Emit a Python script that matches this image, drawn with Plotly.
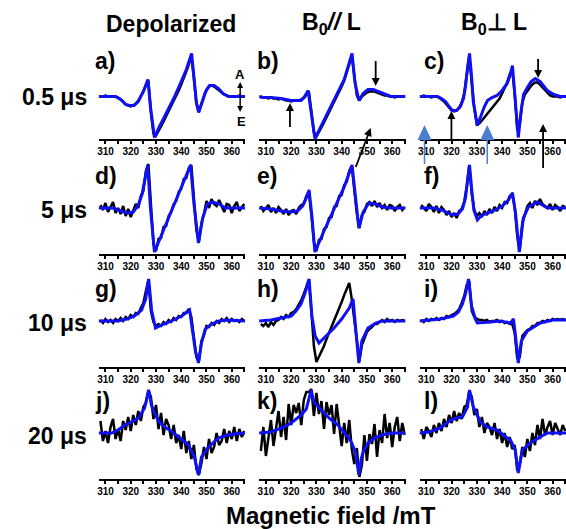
import math
import plotly.graph_objects as go

W, H = 566, 529

# Field grid of the recorded spectra (mT)
FIELD = [308, 309, 310, 311, 312, 313, 314, 315, 316, 317, 318, 319, 320, 321,
         322, 323, 324, 325, 326, 327, 328, 329, 330, 331, 332, 333, 334, 335,
         336, 337, 338, 339, 340, 341, 342, 343, 344, 345, 346, 347, 348, 349,
         350, 351, 352, 353, 354, 355, 356, 357, 358, 359, 360, 361, 362, 363, 364, 365]

TICK_VALUES = [310, 320, 330, 340, 350, 360]
TICK_LABELS = ["310", "320", "330", "340", "350", "360"]
MINOR_TICKS = [315, 325, 335, 345, 355, 365]

COLUMN_TITLES = ["Depolarized", "B<sub>0</sub><i>//</i> L", "B<sub>0</sub>\u22a5 L"]
ROW_LABELS = ["0.5 \u03bcs", "5 \u03bcs", "10 \u03bcs", "20 \u03bcs"]
PANEL_LETTERS = ["a)", "b)", "c)", "d)", "e)", "f)", "g)", "h)", "i)", "j)", "k)", "l)"]

# ---- 0.5 us ----
A_FIT_B = [307.3, 314, 316, 318, 319.5, 321.3, 323, 325, 326.8, 327.8, 329.4, 331, 334, 337,
           340, 342, 344.1, 345, 346, 346.9, 348, 349.5, 351.2, 353, 354.7, 356.5, 358.7, 365.3]
A_FIT = [0, 0, -3, -8, -9, -9, -5, 5, 17, -10, -41, -32, -17, -2,
         15, 27, 43, 18, -6, -16, -8, 4, 11, 11, 8, 3, 0, 0]
A_DATA = [0, 0, 1, 0, 0, 0, 0, -1, -3, -5, -8, -9, -10, -9,
          -7, -4, 0, 5, 11, 16, -16, -37, -39, -35, -30, -25, -20, -15,
          -10, -5, 0, 6, 12, 18, 25, 32, 41, 19, -7, -15, -8, 1,
          7, 10, 11, 10, 8, 6, 4, 2, 1, 0, 0, 0, 0, 1, 0, 0]

B_FIT_B = [307.3, 308.5, 312, 316, 320, 323.9, 325.5, 326.7, 327.6, 329.4, 332, 335, 338, 341,
           344.1, 345.2, 346.8, 348.5, 350.4, 352.5, 355.5, 357.5, 359.5, 365.3]
B_FIT = [0, -1, -1, -2, -4, -4, 0, 6, -10, -42, -29, -14, 1, 17,
         43, 15, -4, 3, 7, 7, 4, 2, 0, 0]
B_DATA = [0, -1, -1, -2, -1, -2, -2, -3, -2, -3, -4, -4, -5, -4,
          -4, -4, -3, -1, 3, 5, -15, -36, -40, -36, -31, -26, -21, -16,
          -11, -6, -1, 4, 10, 16, 23, 32, 41, 21, 1, -4, 0, 2,
          4, 5, 5, 5, 4, 3, 2, 1, 1, 0, 0, -1, 0, 0, 0, 0]

C_FIT_B = [307.3, 314.4, 316, 317.6, 319, 320.3, 322, 323.5, 324.7, 325.5, 326.3, 327.1, 327.9,
           328.6, 330.2, 331.5, 333, 334.2, 336, 338, 340, 342, 343, 344.1, 345.2, 346.4,
           347.5, 348.5, 350, 351.5, 353.1, 355, 357.9, 360.5, 363, 365.3]
C_FIT = [0, 0, -2, -5, -10, -14, -14, -10, -2, 10, 28, 43, 20,
         -5, -29, -20, -10, -4, -1, 1, 6, 13, 20, 31, 0, -41,
         -15, 2, 9, 15, 18, 15, 6, 2, 0, 0]
C_DATA = [0, 1, 0, 0, -1, 0, 0, -1, -3, -5, -8, -11, -14, -15,
          -14, -11, -6, 3, 21, 41, 13, -12, -28, -27, -24, -21, -17, -14,
          -11, -8, -5, -2, 3, 8, 14, 22, 27, 3, -34, -27, -6, 2,
          6, 9, 12, 14, 14, 12, 9, 6, 3, 1, 0, 0, 0, -1, 0, 0]

# ---- 5 us ----
D_FIT_B = [307.3, 313, 316, 318.5, 321, 323, 324.5, 325.7, 326.7, 327.8, 329.4, 333, 337, 341,
           343.7, 345, 346.8, 348.5, 350.3, 352.5, 355, 357.5, 365.3]
D_FIT = [0, 0, -3, -5, -4, 3, 14, 28, 43, 0, -44, -22, 2, 26,
         43, 5, -35, -10, 4, 6, 4, 0, 0]
D_DATA = [3, -2, 5, -4, 1, 6, -5, 0, -6, 2, -8, -1, -9, -2,
          4, 0, 12, 17, 37, 44, 2, -36, -43, -31, -30, -19, -18, -8,
          -4, 4, 7, 16, 19, 29, 30, 40, 43, 7, -22, -34, -15, -6,
          7, 0, 9, 4, 2, 8, 1, -4, 4, 3, -5, 2, 6, -3, 1, 4]

E_FIT_B = [307.3, 312, 316, 320, 322.5, 324.5, 326, 327.1, 328.2, 329.4, 333, 337, 341, 344.1,
           345.5, 346.8, 348.5, 350.8, 353.5, 356, 359.5, 365.3]
E_FIT = [0, -1, -3, -4, -3, 2, 10, 18, -8, -44, -23, -1, 21, 43,
         8, -20, -4, 5, 4, 1, 0, 0]
E_DATA = [2, -3, 0, 3, -4, 0, -5, 1, -2, -6, -1, -7, -3, -2,
          -6, 0, 3, 4, 12, 16, -6, -34, -43, -32, -31, -21, -19, -10,
          -9, 1, 2, 12, 13, 23, 26, 37, 42, 15, -5, -20, -7, -4,
          4, 6, 2, 7, 1, 5, 0, 3, -2, 3, 2, -3, 1, 3, -2, 1]

F_FIT_B = [307.3, 313, 316, 318.5, 320.3, 322.5, 324.3, 325.5, 326.4, 327.1, 327.9, 328.8, 330.2,
           332, 334.2, 337.3, 340, 342.5, 344.1, 345.3, 346.8, 348.4, 350.4, 353.9, 357.9, 365.3]
F_FIT = [0, 0, -2, -5, -7, -6, -1, 10, 28, 43, 20, -2, -12,
         -7, -5, -2, 2, 8, 15, -5, -44, -10, 1, 6, 0, 0]
F_DATA = [3, 0, -3, 4, 1, -4, 2, -5, 1, -2, -7, -3, -9, -5,
          -10, -3, -1, 6, 22, 43, 14, -2, -8, -5, -9, -3, -7, -1,
          -5, 1, -3, 3, 0, 6, 5, 12, 14, 1, -28, -42, -15, -7,
          2, 5, 0, 7, 3, 9, 4, 2, 0, 4, -2, 3, 1, -3, 2, 1]

# ---- 10 us ----
G_FIT_B = [307.3, 315, 318.5, 321.5, 324.3, 325.9, 327.1, 328.3, 329.8, 332.2, 336.2, 340.2,
           343.3, 344.5, 345.6, 346.8, 348, 349.5, 352, 355, 358, 365.3]
G_FIT = [0, 0, 2, 5, 11, 22, 42, 10, -7, -4, 0, 5,
         11, -10, -30, -42, -22, -8, -3, 0, 1, 0]
G_DATA = [1, -2, 2, -1, 1, -2, 2, 0, 3, 0, 4, 2, 6, 4,
          8, 7, 13, 18, 30, 41, 10, -1, -5, -3, -5, -1, -3, 1,
          -1, 3, 1, 5, 4, 8, 8, 12, 4, -18, -36, -40, -20, -14,
          -5, -6, -2, -4, 0, -2, 2, 0, 3, -1, 2, 0, 1, -1, 2, 0]

H_FIT_B = [307.3, 312, 316, 320, 321.9, 323.9, 325.5, 327.1, 328.2, 329.5, 331, 334, 337, 340,
           343, 344.5, 345.6, 346.8, 348, 350.4, 353.5, 356, 365.3]
H_FIT = [0, 1, 3, 5, 10, 17, 28, 42, 5, -15, -22, -15, -7, 2,
         13, 22, -10, -42, -20, -7, -2, 0, 0]
H_DATA = [-3, -5, -2, -6, -1, -4, 0, 1, 4, 2, 6, 4, 8, 9,
          12, 16, 21, 27, 34, 41, 10, -25, -41, -36, -31, -25, -18, -12,
          -6, 0, 7, 13, 19, 26, 32, 38, 22, 2, -22, -40, -24, -17,
          -11, -8, -6, -3, -3, -1, 1, -1, 2, 0, 1, -1, 1, 0, 1, 0]

I_FIT_B = [307.3, 315.6, 320.7, 322.7, 324.3, 325.5, 326.7, 327.9, 329.4, 330.2, 335.4, 339.3,
           343.3, 344.5, 345.3, 346.4, 347.6, 350, 355.1, 360, 365.3]
I_FIT = [0, 2, 5, 9, 17, 27, 42, 15, 2, -2, -1, 0,
         -2, 2, -15, -42, -20, -10, -2, 1, 1]
I_DATA = [1, -1, 2, 0, 2, 1, 3, 1, 3, 2, 5, 4, 6, 7,
          9, 12, 18, 25, 36, 40, 10, 4, 2, 1, 1, 0, 1, -1,
          0, 0, 1, -1, 0, -2, -1, -3, -3, -12, -38, -36, -15, -12,
          -9, -8, -5, -5, -2, -2, 0, -1, 1, 0, 2, 1, 2, 1, 2, 1]

# ---- 20 us ----
J_FIT_B = [307.3, 312.4, 315, 317.6, 320.5, 323.1, 325.5, 327.1, 328.2, 329.4, 331, 333.4, 336,
           339, 342.9, 345.2, 346.8, 348, 350.8, 354.7, 358, 361.1, 365.3]
J_FIT = [0, 0, 3, 8, 11, 15, 25, 43, 28, 20, 12, 6, 2,
         -4, -12, -24, -42, -24, -14, -5, -2, -1, 0]
J_DATA = [12, -8, 2, -10, 6, 14, -6, 4, -8, 12, 3, 16, 2, 18,
          8, 22, 12, 26, 30, 43, 36, 14, 28, 4, 20, -2, 14, 8,
          -6, 8, -10, -2, -16, 2, -20, -8, -26, -12, -36, -42, -30, -14,
          -26, -6, -20, -14, 0, -12, -8, 4, -10, 2, -6, 6, -8, 4, -4, 2]

K_FIT_B = [307.3, 312, 315, 318, 320, 322, 324, 326, 327.9, 329, 331, 333, 335.5, 338.5, 340.5,
           342.5, 344, 345.5, 346.8, 347.8, 348.8, 350.5, 352.8, 356, 359.5, 365.3]
K_FIT = [0, 1, 4, 7, 10, 14, 18, 24, 43, 31, 25, 20, 14, 8, 2,
         -4, -10, -20, -42, -25, -17, -10, -5, -2, 0, 0]
K_DATA = [-18, 6, -23, -3, 13, -13, 6, 22, -4, 16, -7, 29, 8, 28,
          20, 30, 8, 33, 41, 41, 44, 17, 40, 19, 32, 4, 31, 18,
          28, -1, 29, 10, -13, 10, -10, 13, -16, -31, -15, -44, -32, -2,
          -28, -1, -11, 9, -24, 3, -10, 19, -5, 10, -14, 6, 16, -8, 10, -2]

L_FIT_B = [307.3, 311, 315.6, 319.6, 322, 324.3, 326.3, 327.1, 328.6, 331.4, 334, 338.1, 341,
           343.3, 345.2, 346.4, 348, 351.2, 355.1, 357.9, 365.3]
L_FIT = [0, 1, 5, 13, 15, 16, 26, 43, 26, 11, 6, 3, -3,
         -7, -17, -40, -17, -10, -4, 0, 0]
L_DATA = [4, -6, 6, 2, -4, 8, 0, 10, 2, 14, 6, 18, 10, 22,
          12, 20, 14, 26, 28, 42, 36, 18, 24, 6, 16, 0, 10, 6,
          -2, 10, -6, 4, -10, 0, -14, -4, -16, -12, -38, -32, -14, -24,
          -6, -18, 0, -12, 8, -6, 14, -2, 6, 12, -2, 10, 4, -2, 8, 2]

FITS_B = [A_FIT_B, B_FIT_B, C_FIT_B, D_FIT_B, E_FIT_B, F_FIT_B,
          G_FIT_B, H_FIT_B, I_FIT_B, J_FIT_B, K_FIT_B, L_FIT_B]
FITS = [A_FIT, B_FIT, C_FIT, D_FIT, E_FIT, F_FIT, G_FIT, H_FIT, I_FIT, J_FIT, K_FIT, L_FIT]
DATA = [A_DATA, B_DATA, C_DATA, D_DATA, E_DATA, F_DATA,
        G_DATA, H_DATA, I_DATA, J_DATA, K_DATA, L_DATA]

# ---- panel geometry (pixels) ----
COL_X = [(97, 244), (258, 405), (419, 566)]
ROW_Y = [(45, 139), (160, 254), (273, 367), (385, 479)]
ROW_YRANGE = [(-42.5, 51.5), (-46, 48), (-46, 48), (-46, 48)]
FIELD_RANGE = [307.3, 365.3]

FONT = "Liberation Sans, Arial, sans-serif"
FIT_COLOR = "#1010f5"
DATA_COLOR = "#000000"
MARKER_BLUE = "#4a7fd0"


def px(x):
    return x / W


def py(y):
    return 1 - y / H


fig = go.Figure()
layout = {}

for k in range(12):
    r, c = divmod(k, 3)
    n = "" if k == 0 else str(k + 1)
    fig.add_trace(go.Scatter(x=FIELD, y=DATA[k], mode="lines",
                             line=dict(color=DATA_COLOR, width=2.5),
                             xaxis="x" + n, yaxis="y" + n, hoverinfo="skip"))
    fig.add_trace(go.Scatter(x=FITS_B[k], y=FITS[k], mode="lines",
                             line=dict(color=FIT_COLOR, width=3),
                             xaxis="x" + n, yaxis="y" + n, hoverinfo="skip"))
    x0, x1 = COL_X[c]
    y0, y1 = ROW_Y[r]
    layout["xaxis" + n] = dict(
        domain=[px(x0), px(x1)], anchor="y" + n, range=FIELD_RANGE,
        showline=True, linecolor="black", linewidth=2, mirror=False,
        showgrid=False, zeroline=False,
        ticks="outside", ticklen=3, tickwidth=1.5, tickcolor="black",
        tickvals=TICK_VALUES, ticktext=TICK_LABELS, ticklabelstandoff=-1,
        tickfont=dict(family=FONT, size=10, color="black", weight="bold"),
        minor=dict(tickvals=MINOR_TICKS, ticks="outside", ticklen=3,
                   tickwidth=1.5, tickcolor="black"),
        fixedrange=True,
    )
    layout["yaxis" + n] = dict(
        domain=[py(y1), py(y0)], anchor="x" + n, range=list(ROW_YRANGE[r]),
        visible=False, fixedrange=True,
    )

annotations = []


def text(x, y, s, size=23, xanchor="center", bold=True):
    annotations.append(dict(
        x=px(x), y=py(y), xref="paper", yref="paper", text=s, showarrow=False,
        xanchor=xanchor, yanchor="middle",
        font=dict(family=FONT, size=size, color="black",
                  weight="bold" if bold else "normal")))


for c, title in enumerate(COLUMN_TITLES):
    text([170, 331, 494][c], 24, title)

for r, lab in enumerate(ROW_LABELS):
    text(87, [97, 210, 323, 436][r], lab, xanchor="right")

LETTER_X = [91, 254, 421]
LETTER_Y = [61, 176, 289, 401]
for k, letter in enumerate(PANEL_LETTERS):
    r, c = divmod(k, 3)
    text(LETTER_X[c], LETTER_Y[r], letter, xanchor="left")

text(330, 515, "Magnetic field /mT", size=24)

# absorption / emission marker in panel a)
text(239, 74, "A", size=13)
text(240, 122, "E", size=13)

shapes = []


def head(hx, hy, tx, ty, color, length=8, half=4):
    """Filled triangular arrow head with its tip at (hx, hy), pointing away from (tx, ty)."""
    d = math.hypot(hx - tx, hy - ty)
    ux, uy = (hx - tx) / d, (hy - ty) / d
    bx, by = hx - ux * length, hy - uy * length
    p1 = (bx - uy * half, by + ux * half)
    p2 = (bx + uy * half, by - ux * half)
    shapes.append(dict(
        type="path", xref="paper", yref="paper",
        path=f"M {px(hx)} {py(hy)} L {px(p1[0])} {py(p1[1])} L {px(p2[0])} {py(p2[1])} Z",
        fillcolor=color, line=dict(width=0)))
    return bx, by


def arrow(hx, hy, tx, ty, both=False, color="black", width=1.8, length=8, half=4):
    ex, ey = head(hx, hy, tx, ty, color, length, half)
    sx, sy = tx, ty
    if both:
        sx, sy = head(tx, ty, hx, hy, color, length, half)
    shapes.append(dict(type="line", xref="paper", yref="paper",
                       x0=px(sx), y0=py(sy), x1=px(ex + (hx - ex) * 0.2),
                       y1=py(ey + (hy - ey) * 0.2),
                       line=dict(color=color, width=width)))


arrow(239, 82, 239, 112, both=True, width=1.5, length=6, half=3)
# panel b)
arrow(289, 103, 289, 127)
arrow(375, 86, 375, 61)
arrow(370, 128, 355, 167)
# panel c)
arrow(451, 111, 451, 139)
arrow(538, 78, 538, 59)
arrow(543, 124, 543, 168)
for tx in [424, 487]:
    arrow(tx, 125, tx, 164, color=MARKER_BLUE, width=1.5, length=15, half=7)

fig.update_layout(
    width=W, height=H, margin=dict(l=0, r=0, t=0, b=0),
    paper_bgcolor="white", plot_bgcolor="white", showlegend=False,
    annotations=annotations, shapes=shapes, **layout,
)

fig.write_html("out.html")
